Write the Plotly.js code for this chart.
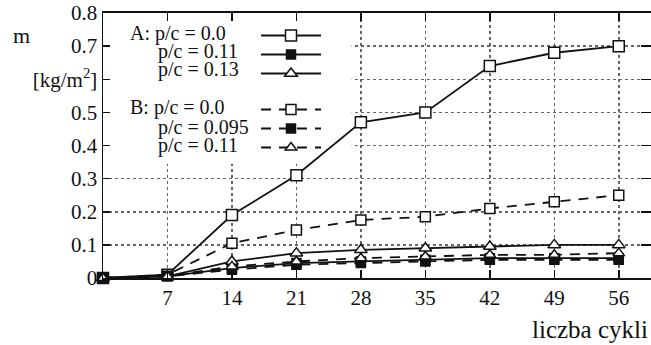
<!DOCTYPE html>
<html>
<head>
<meta charset="utf-8">
<script src="https://cdn.plot.ly/plotly-3.0.1.min.js"></script>
<style>html,body{margin:0;padding:0;background:#fff;}#chart{width:651px;height:345px;}</style>
</head>
<body>
<div id="chart"></div>
<script>
const cycles = [0, 7, 14, 21, 28, 35, 42, 49, 56];
const A_00  = [0, 0.01, 0.19, 0.31, 0.47, 0.50, 0.64, 0.68, 0.70];
const A_011 = [0, 0.005, 0.03, 0.045, 0.05, 0.055, 0.06, 0.06, 0.06];
const A_013 = [0, 0.005, 0.05, 0.075, 0.085, 0.09, 0.095, 0.10, 0.10];
const B_00  = [0, 0.01, 0.105, 0.145, 0.175, 0.185, 0.21, 0.23, 0.25];
const B_0095 = [0, 0.005, 0.025, 0.04, 0.045, 0.05, 0.055, 0.055, 0.055];
const B_011 = [0, 0.005, 0.035, 0.05, 0.06, 0.065, 0.07, 0.07, 0.075];

const seriesLabels = ["A: p/c = 0.0", "p/c = 0.11", "p/c = 0.13", "B: p/c = 0.0", "p/c = 0.095", "p/c = 0.11"];
const xTickVals = [7, 14, 21, 28, 35, 42, 49, 56];
const xTickText = ["7", "14", "21", "28", "35", "42", "49", "56"];
const yTickVals = [0, 0.1, 0.2, 0.3, 0.4, 0.5, 0.6, 0.7, 0.8];
const yTickText = ["0", "0.1", "0.2", "0.3", "0.4", "0.5", "[kg/m<sup>2</sup>]", "0.7", "0.8"];
const yUnitLabel = "m";
const xTitle = "liczba cykli";

const FONT = "Liberation Serif, Times New Roman, serif";
const K = "#111";

function mk(y, group, symbol, filled, dash, size) {
  return {
    x: cycles, y: y, type: "scatter", mode: "lines+markers",
    name: "\u00a0", legendgroup: group, cliponaxis: false,
    line: {color: K, width: 1.8, dash: dash},
    marker: {symbol: symbol, size: size, color: filled ? K : "#fff", line: {color: K, width: 1.5}}
  };
}

const traces = [
  mk(A_00, "A", "square", false, "solid", 11),
  mk(A_011, "A", "square", true, "solid", 9),
  mk(A_013, "A", "triangle-up", false, "solid", 11),
  mk(B_00, "B", "square", false, "10px,8px", 10),
  mk(B_0095, "B", "square", true, "10px,8px", 9),
  mk(B_011, "B", "triangle-up", false, "10px,8px", 10)
];
// right-side ticks
traces.push({x: [], y: [], yaxis: "y2", type: "scatter", showlegend: false, hoverinfo: "skip"});

const rowY = [33, 52, 70, 107, 127, 145];
const rowX = [128, 156, 156, 128, 156, 156];
const L = 103, T = 13, W = 548, H = 265;
const annotations = seriesLabels.map((s, i) => ({
  text: s, xref: "paper", yref: "paper",
  x: (rowX[i] - L) / W, y: (T + H - rowY[i]) / H,
  xanchor: "left", yanchor: "middle", showarrow: false,
  font: {family: FONT, size: 20, color: K}
}));
annotations.push({text: yUnitLabel, xref: "paper", yref: "paper", x: (22 - L) / W, y: (T + H - 35) / H,
  xanchor: "center", yanchor: "middle", showarrow: false, font: {family: FONT, size: 22, color: K}});
annotations.push({text: xTitle, xref: "paper", yref: "paper", x: (650 - L) / W, y: (T + H - 329) / H,
  xanchor: "right", yanchor: "middle", showarrow: false, font: {family: FONT, size: 25, color: K}});

const layout = {
  width: 651, height: 345,
  margin: {l: L, r: 0, t: T, b: 345 - T - H, pad: 0},
  paper_bgcolor: "#fff", plot_bgcolor: "#fff",
  font: {family: FONT, size: 20, color: K},
  showlegend: true,
  legend: {
    x: (256 - L) / W, y: (T + H - 21) / H, xanchor: "left", yanchor: "top",
    bgcolor: "rgba(0,0,0,0)", borderwidth: 0, itemwidth: 60,
    traceorder: "grouped", tracegroupgap: 17,
    font: {family: FONT, size: 12, color: K}, itemclick: false
  },
  xaxis: {
    range: [0, 59.5], tickvals: xTickVals, ticktext: xTickText,
    ticks: "inside", ticklen: 8, tickwidth: 1.5, tickcolor: K,
    showline: true, linecolor: K, linewidth: 2, mirror: "ticks",
    showgrid: true, gridcolor: "#666", griddash: "dot", gridwidth: 1.5,
    zeroline: false, tickfont: {family: FONT, size: 21, color: K}
  },
  yaxis: {
    range: [0, 0.8], tickvals: yTickVals, ticktext: yTickText,
    ticks: "inside", ticklen: 7, tickwidth: 1.5, tickcolor: K,
    showline: true, linecolor: K, linewidth: 1.5, mirror: false,
    showgrid: true, gridcolor: "#666", griddash: "dot", gridwidth: 1.5,
    zeroline: false, tickfont: {family: FONT, size: 21, color: K}
  },
  yaxis2: {
    overlaying: "y", side: "right", range: [0, 0.8], tickvals: yTickVals,
    ticks: "inside", ticklen: 10, tickwidth: 1.5, tickcolor: K,
    showticklabels: false, showline: false, showgrid: false, zeroline: false
  },
  shapes: [{
    type: "rect", xref: "x", yref: "y", x0: 0.15, x1: 27, y0: 0.345, y1: 0.8,
    fillcolor: "#fff", line: {width: 0}, layer: "between"
  }],
  annotations: annotations
};

Plotly.newPlot("chart", traces, layout, {displayModeBar: false, staticPlot: true});
</script>
</body>
</html>
